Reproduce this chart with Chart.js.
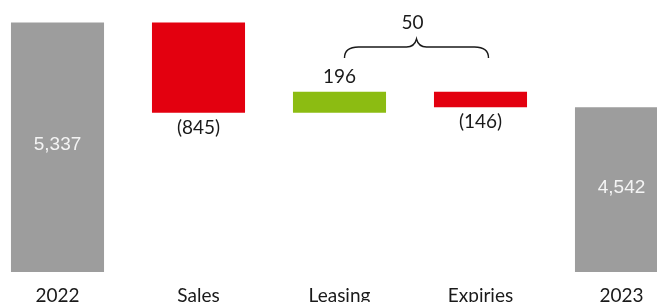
<!DOCTYPE html>
<html>
<head>
<meta charset="utf-8">
<script src="https://cdn.jsdelivr.net/npm/chart.js@4.4.0/dist/chart.umd.min.js"></script>
<style>
  html, body { margin: 0; padding: 0; background: #fff; overflow: hidden; }
  #wrap { position: absolute; left: -13px; top: 0; width: 705px; height: 310px; }
</style>
</head>
<body>
<div id="wrap"><canvas id="chart1"></canvas></div>
<script>
// data
const categories = ['2022', 'Sales', 'Leasing', 'Expiries', '2023'];
const changes = [5337, -845, 196, -146, 4542];
const isTotal = [true, false, false, false, true];
const bracketFrom = 2; // Leasing
const bracketTo = 3;   // Expiries

// y axis window (the chart starts above zero)
const yMin = 3000;
const yMax = 5500;

const grey = '#9d9d9d';
const red = '#e3000f';
const green = '#8cbc12';
const ink = '#1a1a1a';

// build floating ranges from running total
let ranges = [];
let colors = [];
let running = 0;
for (let i = 0; i < changes.length; i++) {
  if (isTotal[i]) {
    running = changes[i];
    ranges.push([yMin, changes[i]]);
    colors.push(grey);
  } else {
    const start = running;
    running = running + changes[i];
    ranges.push([start, running]);
    colors.push(changes[i] < 0 ? red : green);
  }
}

function fmt(v, total) {
  const s = Math.abs(v).toLocaleString('en-US');
  if (total) return s;
  return v < 0 ? '(' + s + ')' : s;
}

// value labels for each bar
const valueLabels = {
  id: 'valueLabels',
  afterDatasetsDraw(chart) {
    const ctx = chart.ctx;
    const meta = chart.getDatasetMeta(0);
    ctx.save();
    ctx.textAlign = 'center';
    ctx.textBaseline = 'middle';
    meta.data.forEach((bar, i) => {
      const top = Math.min(bar.y, bar.base);
      const bottom = Math.max(bar.y, bar.base);
      if (isTotal[i]) {
        const b = Math.min(bottom, chart.chartArea.bottom);
        ctx.font = '19px "Liberation Sans", Arial, sans-serif';
        ctx.fillStyle = '#f4f4f4';
        ctx.fillText(fmt(changes[i], true), bar.x, (top + b) / 2 - 2);
      } else {
        ctx.font = '19px Lato, sans-serif';
        ctx.fillStyle = ink;
        if (changes[i] < 0) {
          ctx.fillText(fmt(changes[i], false), bar.x, bottom + 15);
        } else {
          ctx.fillText(fmt(changes[i], false), bar.x, top - 15);
        }
      }
    });
    ctx.restore();
  }
};

// curly bracket with the net of two changes
const bracket = {
  id: 'bracket',
  afterDatasetsDraw(chart) {
    const ctx = chart.ctx;
    const meta = chart.getDatasetMeta(0);
    const x1 = meta.data[bracketFrom].x + 5;
    const x2 = meta.data[bracketTo].x + 8;
    const mid = (x1 + x2) / 2;
    const t = chart.chartArea.top;
    const yEnd = t + 53;
    const yLine = t + 42;
    const yTip = t + 34;

    ctx.save();
    ctx.strokeStyle = ink;
    ctx.lineWidth = 1.4;
    ctx.beginPath();
    ctx.moveTo(x1, yEnd);
    ctx.quadraticCurveTo(x1, yLine, x1 + 14, yLine);
    ctx.lineTo(mid - 10, yLine);
    ctx.quadraticCurveTo(mid - 2, yLine, mid, yTip);
    ctx.quadraticCurveTo(mid + 2, yLine, mid + 10, yLine);
    ctx.lineTo(x2 - 14, yLine);
    ctx.quadraticCurveTo(x2, yLine, x2, yEnd);
    ctx.stroke();

    const net = changes[bracketFrom] + changes[bracketTo];
    ctx.font = '19px Lato, sans-serif';
    ctx.fillStyle = ink;
    ctx.textAlign = 'center';
    ctx.textBaseline = 'middle';
    ctx.fillText(fmt(net, false), mid - 4, t + 18);
    ctx.restore();
  }
};

const config = {
  type: 'bar',
  data: {
    labels: categories,
    datasets: [{
      data: ranges,
      backgroundColor: colors,
      borderWidth: 0,
      categoryPercentage: 1,
      barPercentage: 0.66
    }]
  },
  options: {
    responsive: true,
    maintainAspectRatio: false,
    animation: false,
    layout: { padding: { top: 5, left: 0, right: 0, bottom: 0 } },
    plugins: {
      legend: { display: false },
      tooltip: { enabled: false }
    },
    scales: {
      x: {
        grid: { display: false, drawTicks: false },
        border: { display: false },
        ticks: {
          color: ink,
          padding: 12,
          autoSkip: false,
          maxRotation: 0,
          font: { family: 'Lato, sans-serif', size: 19 }
        },
        afterFit(scale) { scale.height = 38; }
      },
      y: {
        display: false,
        min: yMin,
        max: yMax
      }
    }
  },
  plugins: [valueLabels, bracket]
};

const myChart = new Chart(document.getElementById('chart1'), config);
</script>
</body>
</html>
